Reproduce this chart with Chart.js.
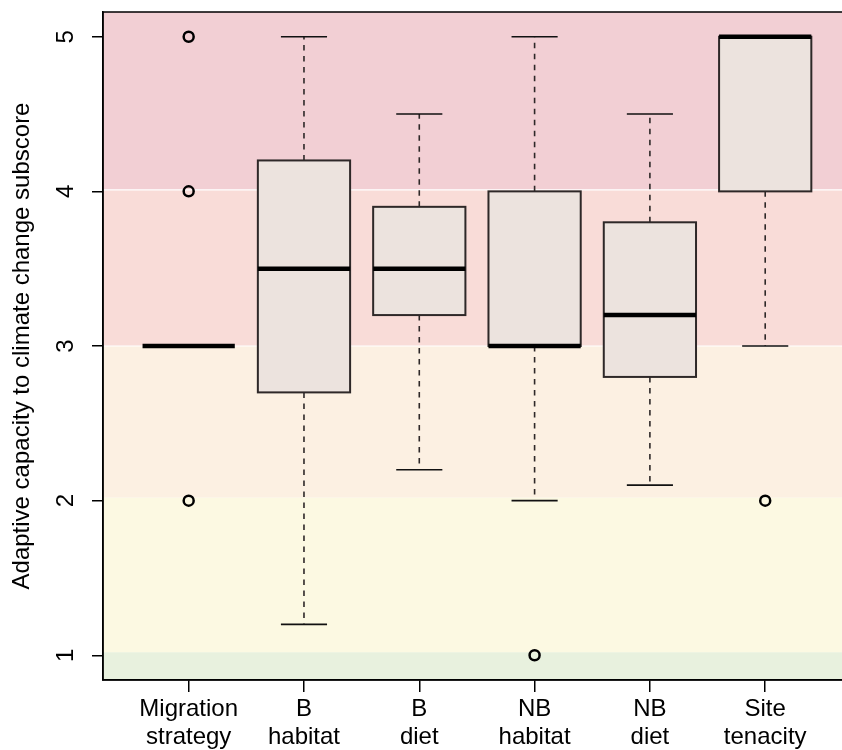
<!DOCTYPE html>
<html>
<head>
<meta charset="utf-8">
<script src="https://cdn.jsdelivr.net/npm/chart.js@4"></script>
<style>
  html, body { margin: 0; padding: 0; background: #ffffff; }
  #wrap { width: 842px; height: 750px; }
</style>
</head>
<body>
<div id="wrap"><canvas id="c" width="842" height="750"></canvas></div>
<script>
// ---- data ----
const categories = [
  ['Migration', 'strategy'],
  ['B', 'habitat'],
  ['B', 'diet'],
  ['NB', 'habitat'],
  ['NB', 'diet'],
  ['Site', 'tenacity']
];
const whiskerLow  = [3,   1.2, 2.2, 2.0, 2.1, 3.0];
const quartile1   = [3,   2.7, 3.2, 3.0, 2.8, 4.0];
const medians     = [3,   3.5, 3.5, 3.0, 3.2, 5.0];
const quartile3   = [3,   4.2, 3.9, 4.0, 3.8, 5.0];
const whiskerHigh = [3,   5.0, 4.5, 5.0, 4.5, 5.0];
const outlierCategory = [1, 1, 1, 4, 6];
const outlierValue    = [2, 4, 5, 1, 2];
const yTickValues = [1, 2, 3, 4, 5];
const yTitle = 'Adaptive capacity to climate change subscore';
// background bands: [from, to, colour]
const bandLimits = [0.0, 1.02, 2.02, 3.0, 4.01, 6.0];
const bandColors = ['#e8f1de', '#fcf9e2', '#fcf0e2', '#f9dcd8', '#f2cfd4'];
const bandSeparators = [3.0, 4.01];

const FONT = '"Liberation Sans", Arial, Helvetica, sans-serif';

const bgPlugin = {
  id: 'bands',
  beforeDraw(chart) {
    const {ctx, chartArea: a, scales: {y}} = chart;
    ctx.save();
    for (let i = 0; i < bandColors.length; i++) {
      const y1 = Math.max(a.top, y.getPixelForValue(bandLimits[i + 1]));
      const y0 = Math.min(a.bottom, y.getPixelForValue(bandLimits[i]));
      if (y0 <= y1) continue;
      ctx.fillStyle = bandColors[i];
      ctx.fillRect(a.left, y1, a.right - a.left, y0 - y1);
    }
    ctx.strokeStyle = '#ffffff';
    ctx.lineWidth = 1.2;
    for (const v of bandSeparators) {
      const py = y.getPixelForValue(v);
      ctx.beginPath(); ctx.moveTo(a.left, py); ctx.lineTo(a.right, py); ctx.stroke();
    }
    ctx.restore();
  }
};

const boxPlugin = {
  id: 'boxes',
  beforeDatasetsDraw(chart) {
    const {ctx, scales: {x, y}} = chart;
    ctx.save();
    for (let i = 0; i < categories.length; i++) {
      const cx = x.getPixelForValue(i + 1);
      const hw = x.getPixelForValue(i + 1 + 0.4) - cx;
      const cw = x.getPixelForValue(i + 1 + 0.2) - cx;
      const pLo = y.getPixelForValue(whiskerLow[i]);
      const pQ1 = y.getPixelForValue(quartile1[i]);
      const pMed = y.getPixelForValue(medians[i]);
      const pQ3 = y.getPixelForValue(quartile3[i]);
      const pHi = y.getPixelForValue(whiskerHigh[i]);
      // whiskers
      ctx.strokeStyle = '#2e2828';
      ctx.lineWidth = 1.6;
      ctx.setLineDash([5.5, 5.5]);
      if (whiskerHigh[i] > quartile3[i]) {
        ctx.beginPath(); ctx.moveTo(cx, pQ3); ctx.lineTo(cx, pHi); ctx.stroke();
      }
      if (whiskerLow[i] < quartile1[i]) {
        ctx.beginPath(); ctx.moveTo(cx, pQ1); ctx.lineTo(cx, pLo); ctx.stroke();
      }
      ctx.setLineDash([]);
      if (quartile3[i] > quartile1[i]) {
        // staples
        ctx.strokeStyle = '#111111';
        ctx.lineWidth = 1.6;
        ctx.beginPath(); ctx.moveTo(cx - cw, pHi); ctx.lineTo(cx + cw, pHi); ctx.stroke();
        ctx.beginPath(); ctx.moveTo(cx - cw, pLo); ctx.lineTo(cx + cw, pLo); ctx.stroke();
        // box
        ctx.fillStyle = '#ece3de';
        ctx.fillRect(cx - hw, pQ3, 2 * hw, pQ1 - pQ3);
        ctx.strokeStyle = '#2e2828';
        ctx.lineWidth = 2;
        ctx.strokeRect(cx - hw, pQ3, 2 * hw, pQ1 - pQ3);
      }
      // median
      ctx.strokeStyle = '#000000';
      ctx.lineWidth = 4.5;
      ctx.lineCap = 'butt';
      ctx.beginPath(); ctx.moveTo(cx - hw, pMed); ctx.lineTo(cx + hw, pMed); ctx.stroke();
    }
    ctx.restore();
  },
  afterDraw(chart) {
    const {ctx, chartArea: a, scales: {y}} = chart;
    ctx.save();
    // frame (left, top, bottom)
    ctx.strokeStyle = '#000000';
    ctx.lineWidth = 1.5;
    ctx.beginPath();
    ctx.moveTo(a.right + 2, a.top); ctx.lineTo(a.left, a.top); ctx.lineTo(a.left, a.bottom); ctx.lineTo(a.right + 2, a.bottom);
    ctx.stroke();
    // rotated y tick labels
    ctx.fillStyle = '#000000';
    ctx.font = '24px ' + FONT;
    ctx.textAlign = 'center';
    ctx.textBaseline = 'middle';
    for (const v of yTickValues) {
      const py = y.getPixelForValue(v);
      ctx.save();
      ctx.translate(66, py);
      ctx.rotate(-Math.PI / 2);
      ctx.fillText(String(v), 0, 0);
      ctx.restore();
    }
    ctx.restore();
  }
};

new Chart(document.getElementById('c'), {
  type: 'scatter',
  data: {
    datasets: [{
      data: outlierCategory.map((c, i) => ({x: c, y: outlierValue[i]})),
      pointStyle: 'circle',
      radius: 5,
      borderWidth: 2.5,
      borderColor: '#000000',
      backgroundColor: 'rgba(0,0,0,0)'
    }]
  },
  options: {
    responsive: false,
    devicePixelRatio: 1,
    animation: false,
    layout: { autoPadding: false, padding: { top: 12, right: 0, bottom: 0, left: 0 } },
    plugins: { legend: { display: false }, tooltip: { enabled: false } },
    scales: {
      x: {
        type: 'linear',
        min: 0.257,
        max: 6.666,
        afterBuildTicks(scale) { scale.ticks = categories.map((c, i) => ({value: i + 1})); },
        afterFit(scale) { scale.height = 70; scale.paddingLeft = 0; scale.paddingRight = 0; },
        ticks: {
          callback(v) { return categories[Math.round(v) - 1] || ''; },
          color: '#000000',
          font: { family: FONT, size: 24, lineHeight: 1.1667 },
          padding: 3,
          maxRotation: 0,
          minRotation: 0,
          autoSkip: false
        },
        grid: { drawOnChartArea: false, drawTicks: true, tickLength: 12, color: '#000000', tickColor: '#000000', lineWidth: 1.5 },
        border: { display: true, color: '#000000', width: 1.5 }
      },
      y: {
        type: 'linear',
        min: 0.84,
        max: 5.16,
        afterBuildTicks(scale) { scale.ticks = yTickValues.map(v => ({value: v})); },
        afterFit(scale) { scale.width = 103; scale.paddingTop = 0; scale.paddingBottom = 0; },
        ticks: { display: false },
        title: {
          display: true,
          text: yTitle,
          color: '#000000',
          font: { family: FONT, size: 24, lineHeight: 1.2 },
          padding: { top: 8, bottom: 0 }
        },
        grid: { drawOnChartArea: false, drawTicks: true, tickLength: 11, color: '#000000', tickColor: '#000000', lineWidth: 1.5 },
        border: { display: true, color: '#000000', width: 1.5 }
      }
    }
  },
  plugins: [bgPlugin, boxPlugin]
});
</script>
</body>
</html>
